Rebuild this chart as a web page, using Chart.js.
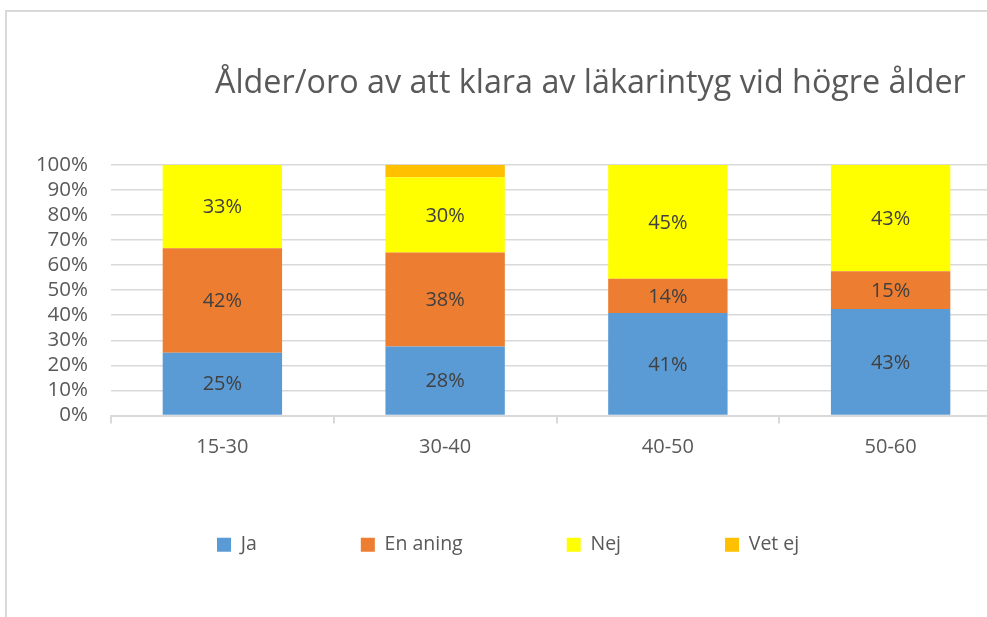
<!DOCTYPE html>
<html>
<head>
<meta charset="utf-8">
<script src="https://cdn.jsdelivr.net/npm/chart.js@4.4.1/dist/chart.umd.min.js"></script>
<style>
    body { margin: 0; background: #fff; overflow: hidden; }
    #frame {
        position: absolute; left: 5px; top: 10px;
        width: 1100px; height: 620px;
        border-left: 2px solid #d9d9d9; border-top: 2px solid #d9d9d9;
    }
    #chartBox { position: absolute; left: 1px; top: 1px; width: 1000px; height: 604px; }
</style>
</head>
<body>
<div id="frame"><div id="chartBox"><canvas id="ageChart"></canvas></div></div>
<script>
// age groups and answer shares (percent of each group)
const ageGroups = ['15-30', '30-40', '40-50', '50-60'];
const ja = [25, 27.5, 40.9, 42.5];
const enAning = [41.7, 37.5, 13.6, 15];
const nej = [33.3, 30, 45.4, 42.5];
const vetEj = [0, 5, 0, 0];
const yTicks = [0, 10, 20, 30, 40, 50, 60, 70, 80, 90, 100];

const chartTitle = 'Ålder/oro av att klara av läkarintyg vid högre ålder';
const textGrey = '#595959';
const gridGrey = '#d9d9d9';

//puts the title and legend where the original had them (its right side is cut off)
const placeBlocks = {
    id: 'placeBlocks',
    afterLayout(chart) {
        const t = chart.titleBlock;
        if (t) { t.left = 207; t.right = 1000; }
        const l = chart.legend;
        if (l) {
            const pad = l.options.labels.padding;
            l.left = 209 - pad;
            l.right = 1000;
            l.top = 522 - pad;
        }
    }
};

//percent labels in the middle of each segment
const segmentLabels = {
    id: 'segmentLabels',
    afterDatasetsDraw(chart) {
        const ctx = chart.ctx;
        ctx.save();
        ctx.font = '20px "Open Sans"';
        ctx.fillStyle = '#404040';
        ctx.textAlign = 'center';
        ctx.textBaseline = 'middle';
        chart.data.datasets.forEach((ds, i) => {
            const meta = chart.getDatasetMeta(i);
            meta.data.forEach((bar, j) => {
                const v = ds.data[j];
                if (v < 6) return;
                ctx.fillText(Math.round(v) + '%', bar.x, (bar.y + bar.base) / 2 + 1);
            });
        });
        ctx.restore();
    }
};

const ctx = document.getElementById('ageChart').getContext('2d');

new Chart(ctx, {
    type: 'bar',
    data: {
        labels: ageGroups,
        datasets: [
            { label: 'Ja', data: ja, backgroundColor: '#5b9bd5' },
            { label: 'En aning', data: enAning, backgroundColor: '#ed7d31' },
            { label: 'Nej', data: nej, backgroundColor: '#ffff00' },
            { label: 'Vet ej', data: vetEj, backgroundColor: '#ffc000' }
        ]
    },
    options: {
        responsive: true,
        maintainAspectRatio: false,
        animation: false,
        datasets: {
            bar: { categoryPercentage: 1, barPercentage: 0.536, borderWidth: 0 }
        },
        layout: { padding: { left: 0, right: 6, top: 0, bottom: 12 } },
        plugins: {
            title: {
                display: true,
                text: chartTitle,
                align: 'start',
                color: textGrey,
                font: { family: '"Open Sans"', size: 32.3, weight: 'normal', lineHeight: 1.2 },
                padding: { top: 51, bottom: 62 }
            },
            legend: {
                position: 'bottom',
                align: 'start',
                labels: {
                    boxWidth: 14,
                    boxHeight: 14,
                    padding: 104,
                    color: textGrey,
                    font: { family: '"Open Sans"', size: 19.5 }
                }
            },
            tooltip: { enabled: false }
        },
        scales: {
            x: {
                stacked: true,
                grid: {
                    offset: true,
                    drawOnChartArea: false,
                    drawTicks: true,
                    tickLength: 8,
                    color: gridGrey,
                    lineWidth: 2
                },
                border: { display: true, color: gridGrey, width: 2 },
                ticks: {
                    color: textGrey,
                    padding: 12,
                    font: { family: '"Open Sans"', size: 20 }
                }
            },
            y: {
                stacked: true,
                min: 0,
                max: 100,
                afterBuildTicks: function(scale) {
                    scale.ticks = yTicks.map(v => ({ value: v }));
                },
                afterFit: function(scale) {
                    scale.width = 103;
                },
                grid: { drawTicks: false, color: gridGrey, lineWidth: 1.5 },
                border: { display: false },
                ticks: {
                    autoSkip: false,
                    color: textGrey,
                    padding: 23,
                    font: { family: '"Open Sans"', size: 20.5 },
                    callback: function(value) {
                        return value + '%';
                    }
                }
            }
        }
    },
    plugins: [placeBlocks, segmentLabels]
});
</script>
</body>
</html>
